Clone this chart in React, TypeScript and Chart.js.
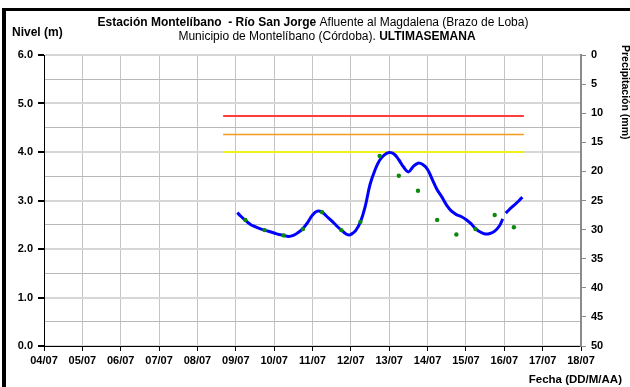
import React, { useEffect, useRef } from "react";
import { Chart, registerables } from "chart.js";

Chart.register(...registerables);

// ---- data ----
const dateLabels = ["04/07", "05/07", "06/07", "07/07", "08/07", "09/07", "10/07", "11/07", "12/07", "13/07", "14/07", "15/07", "16/07", "17/07", "18/07"];

// continuous level record (days since 04/07 00:00, metres)
const levelTime = [5.04, 5.125, 5.25, 5.375, 5.5, 5.625, 5.75, 5.875, 6.0, 6.125, 6.25, 6.375, 6.5, 6.625, 6.75, 6.875, 7.0, 7.125, 7.25, 7.375, 7.5, 7.625, 7.75, 7.875, 7.95, 8.0, 8.125, 8.25, 8.375, 8.5, 8.625, 8.75, 8.875, 9.0, 9.125, 9.25, 9.375, 9.5, 9.625, 9.75, 9.875, 10.0, 10.125, 10.25, 10.375, 10.5, 10.625, 10.75, 10.875, 11.0, 11.125, 11.25, 11.375, 11.5, 11.625, 11.75, 11.875, 11.96, 12.0, 12.04, 12.125, 12.25, 12.375, 12.47];
const levelValue = [2.75, 2.68, 2.59, 2.51, 2.46, 2.42, 2.39, 2.36, 2.33, 2.30, 2.28, 2.26, 2.28, 2.34, 2.42, 2.55, 2.70, 2.78, 2.76, 2.67, 2.58, 2.48, 2.39, 2.31, 2.29, 2.30, 2.38, 2.56, 2.88, 3.33, 3.62, 3.83, 3.94, 3.99, 3.96, 3.84, 3.69, 3.59, 3.70, 3.77, 3.74, 3.64, 3.43, 3.22, 3.07, 2.90, 2.78, 2.71, 2.67, 2.61, 2.53, 2.42, 2.35, 2.31, 2.32, 2.37, 2.48, 2.62, null, 2.74, 2.81, 2.90, 2.99, 3.07];

// manual readings (06:00 and 18:00)
const obsTime = [5.25, 5.75, 6.25, 6.75, 7.25, 7.75, 8.25, 8.75, 9.25, 9.75, 10.25, 10.75, 11.25, 11.75, 12.25];
const obsValue = [2.60, 2.39, 2.28, 2.41, 2.76, 2.39, 2.56, 3.92, 3.51, 3.20, 2.60, 2.30, 2.41, 2.70, 2.45];

// alert thresholds
const thresholdValue = [4.74, 4.36, 4.0];
const thresholdColor = ["#ff3b3b", "#f39a1e", "#f2f21a"];
const thresholdWidth = [2, 1.5, 2];
const thresholdFrom = 4.67;
const thresholdTo = 12.51;

const FONT = "'Liberation Sans', Arial, sans-serif";

const textPlugin = {
  id: "texts",
  afterDraw(chart: any) {
    const ctx = chart.ctx as CanvasRenderingContext2D;
    ctx.save();
    ctx.fillStyle = "#000";
    // frame
    ctx.fillRect(2, 8, 4, 379);
    ctx.fillRect(2, 8, 628, 3);

    const drawMixed = (segs: [string, boolean][], cx: number, y: number, size: number) => {
      let total = 0;
      const widths = segs.map(([t, b]) => {
        ctx.font = `${b ? "bold " : ""}${size}px ${FONT}`;
        const w = ctx.measureText(t).width;
        total += w;
        return w;
      });
      let x = cx - total / 2;
      ctx.textAlign = "left";
      ctx.textBaseline = "alphabetic";
      segs.forEach(([t, b], i) => {
        ctx.font = `${b ? "bold " : ""}${size}px ${FONT}`;
        ctx.fillText(t, x, y);
        x += widths[i];
      });
    };
    drawMixed([["Estación Montelíbano  - Río San Jorge", true], [" Afluente al Magdalena (Brazo de Loba)", false]], 313, 26, 12);
    drawMixed([["Municipio de Montelíbano (Córdoba). ", false], ["ULTIMASEMANA", true]], 327, 40, 12);

    ctx.font = `bold 12px ${FONT}`;
    ctx.textAlign = "left";
    ctx.textBaseline = "alphabetic";
    ctx.fillText("Nivel (m)", 12, 36);
    ctx.font = `bold 11.5px ${FONT}`;
    ctx.textAlign = "right";
    ctx.fillText("Fecha (DD/M/AA)", 622, 383);

    ctx.translate(625, 45);
    ctx.rotate(Math.PI / 2);
    ctx.textAlign = "left";
    ctx.textBaseline = "middle";
    ctx.font = `bold 10.5px ${FONT}`;
    ctx.fillText("Precipitación (mm)", 0, 0);
    ctx.restore();
  },
};

export default function App() {
  const ref = useRef<HTMLCanvasElement>(null);
  useEffect(() => {
    document.body.style.margin = "0";
    const levelData = levelTime.map((t, i) => ({ x: t, y: levelValue[i] }));
    const obsData = obsTime.map((t, i) => ({ x: t, y: obsValue[i] }));
    const thresholdSets = thresholdValue.map((v, i) => ({
      type: "line" as const,
      data: [{ x: thresholdFrom, y: v }, { x: thresholdTo, y: v }],
      borderColor: thresholdColor[i],
      borderWidth: thresholdWidth[i],
      pointRadius: 0,
      yAxisID: "y",
      order: 3,
    }));
    const chart = new Chart(ref.current!, {
      type: "line",
      data: {
        datasets: [
          ...thresholdSets,
          {
            data: levelData,
            borderColor: "#0000ff",
            borderWidth: 3,
            pointRadius: 0,
            tension: 0.4,
            spanGaps: false,
            yAxisID: "y",
            order: 2,
          },
          {
            data: obsData,
            showLine: false,
            pointRadius: 2.2,
            pointBackgroundColor: "#0a8a0a",
            pointBorderWidth: 0,
            yAxisID: "y",
            order: 1,
          },
        ] as any,
      },
      options: {
        animation: false,
        responsive: false,
        events: [],
        layout: { padding: { top: 55, left: 0, right: 0, bottom: 0 } },
        plugins: { legend: { display: false }, tooltip: { enabled: false }, title: { display: false } },
        scales: {
          x: {
            type: "linear",
            min: 0,
            max: 14,
            afterFit: (s: any) => { s.height = 41; },
            ticks: {
              stepSize: 1,
              autoSkip: false,
              maxRotation: 0,
              padding: 3,
              color: "#000",
              font: { family: FONT, size: 11, weight: "bold" },
              callback: (v: any) => dateLabels[Math.round(v)] ?? "",
            },
            grid: { color: "#c4c4c4", lineWidth: 1, tickLength: 5, tickColor: "#000" },
            border: { color: "#000", width: 1 },
          },
          y: {
            position: "left",
            min: 0,
            max: 6,
            afterFit: (s: any) => { s.width = 44; },
            ticks: {
              stepSize: 0.5,
              padding: 5,
              color: "#000",
              font: { family: FONT, size: 11, weight: "bold" },
              callback: (v: any) => (Math.abs(v - Math.round(v)) < 1e-6 ? Number(v).toFixed(1) : ""),
            },
            grid: {
              color: (c: any) => (c.tick && Math.abs(c.tick.value % 1) < 1e-6 ? "#d6d6d6" : "#b8b8b8"),
              lineWidth: (c: any) => (c.tick && Math.abs(c.tick.value % 1) < 1e-6 ? 2 : 1),
              tickLength: 6,
              tickColor: (c: any) => (c.tick && Math.abs(c.tick.value % 1) < 1e-6 ? "#000" : "rgba(0,0,0,0)"),
            },
            border: { color: "#000", width: 1 },
          },
          y2: {
            position: "right",
            min: 0,
            max: 50,
            reverse: true,
            afterFit: (s: any) => { s.width = 49; },
            ticks: {
              stepSize: 5,
              padding: 5,
              color: "#000",
              font: { family: FONT, size: 11, weight: "bold" },
            },
            grid: { drawOnChartArea: false, tickLength: 5, tickColor: "#8a8a8a" },
            border: { color: "#8a8a8a", width: 2 },
          },
        },
      } as any,
      plugins: [textPlugin],
    });
    return () => chart.destroy();
  }, []);
  return <canvas ref={ref} width={630} height={387} style={{ display: "block" }} />;
}
